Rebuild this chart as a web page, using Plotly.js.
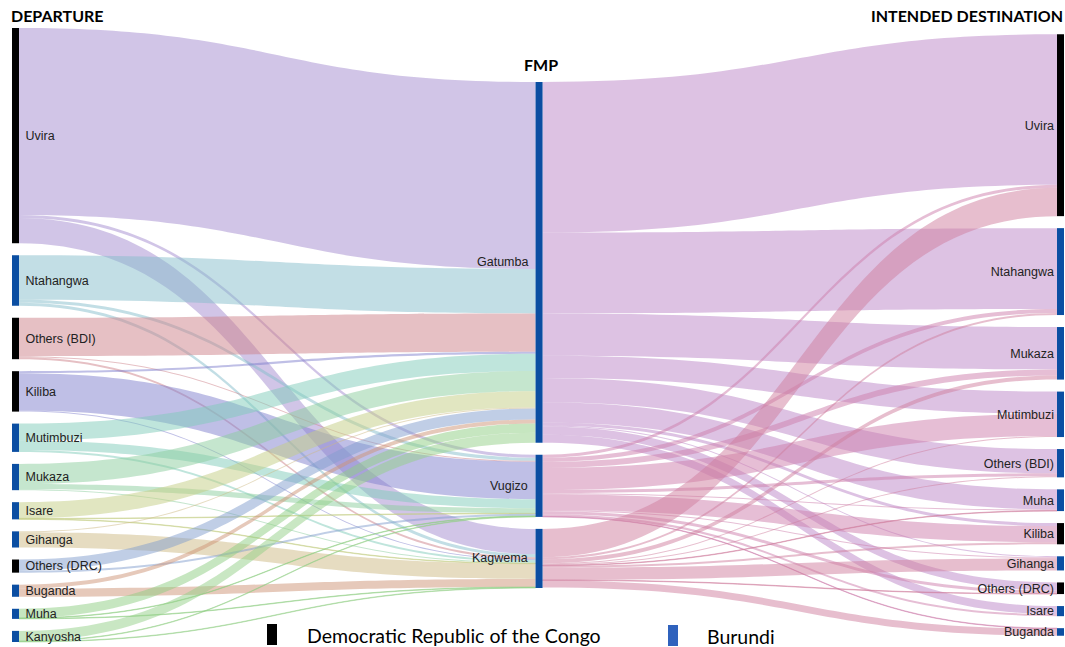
<!DOCTYPE html>
<html>
<head>
<meta charset="utf-8">
<script src="https://cdn.plot.ly/plotly-3.0.1.min.js"></script>
<style>html,body{margin:0;padding:0;background:#fff;}#chart{width:1065px;height:647px;}</style>
</head>
<body>
<div id="chart"></div>
<script>
// ---------- DATA ----------
const departure = ['Uvira','Ntahangwa','Others (BDI)','Kiliba','Mutimbuzi','Mukaza','Isare','Gihanga','Others (DRC)','Buganda','Muha','Kanyosha'];
const departureCountry = ['DRC','BDI','DRC','DRC','BDI','BDI','BDI','BDI','DRC','BDI','BDI','BDI'];
const fmp = ['Gatumba','Vugizo','Kagwema'];
const destination = ['Uvira','Ntahangwa','Mukaza','Mutimbuzi','Others (BDI)','Muha','Kiliba','Gihanga','Others (DRC)','Isare','Buganda'];
const destinationCountry = ['DRC','BDI','BDI','BDI','BDI','BDI','DRC','BDI','DRC','BDI','BDI'];

// departure -> FMP  (columns: Gatumba, Vugizo, Kagwema)
const departureToFmp = [
  [185, 3, 25],     // Uvira
  [44, 3, 3],       // Ntahangwa
  [38, 1, 2],       // Others (BDI)
  [2, 37, 1],       // Kiliba
  [17, 9, 2],       // Mutimbuzi
  [20, 5, 1],       // Mukaza
  [16, 0.5, 0.5],   // Isare
  [1, 0, 15],       // Gihanga
  [11, 2, 0],       // Others (DRC)
  [4, 0, 8],        // Buganda
  [9, 0.5, 0.5],    // Muha
  [10, 0.5, 0.5]    // Kanyosha
];
// FMP -> destination (columns follow `destination`)
const fmpToDestination = [
  [149, 80, 42, 22, 24, 20, 3, 1, 8, 8, 0],        // Gatumba
  [3, 4, 6, 22, 3, 1, 16, 1, 3, 2, 0.5],           // Vugizo
  [28, 2, 4, 1, 1, 0.5, 2, 12, 0.5, 0, 7]          // Kagwema
];

// ---------- STYLE ----------
const countryColor = {DRC: '#000000', BDI: '#0b4ea2'};
const fmpNodeColor = '#0b4ea2';
const departureLinkColors = [
  'rgba(163,140,207,0.5)', 'rgba(133,190,204,0.5)', 'rgba(205,130,138,0.5)', 'rgba(128,128,205,0.5)',
  'rgba(127,203,185,0.5)', 'rgba(139,205,157,0.5)', 'rgba(195,205,131,0.5)', 'rgba(205,185,131,0.5)',
  'rgba(129,157,205,0.5)', 'rgba(205,147,117,0.5)', 'rgba(141,205,129,0.5)', 'rgba(147,207,135,0.5)'
];
const fmpLinkColors = ['rgba(187,133,199,0.5)', 'rgba(205,125,172,0.5)', 'rgba(207,125,158,0.5)'];

const W = 1065, H = 647;
const margin = {l: 12, r: 1, t: 28, b: 5};
const plotW = W - margin.l - margin.r, plotH = H - margin.t - margin.b;
const pad = 12, thickness = 7;
const labelFont = {family: 'Liberation Sans, Arial, sans-serif', size: 12.5, color: '#222'};

// ---------- BUILD ----------
const nDep = departure.length, nF = fmp.length;
// left labels get a small lead-in space; middle labels are drawn to the left of their nodes below
const labels = [...departure.map(s => '\u00a0' + s), ...fmp.map(() => ''), ...destination];
const source = [], target = [], value = [], linkColor = [];
departureToFmp.forEach((row, i) => row.forEach((v, j) => {
  if (v > 0) { source.push(i); target.push(nDep + j); value.push(v); linkColor.push(departureLinkColors[i]); }
}));
fmpToDestination.forEach((row, j) => row.forEach((v, k) => {
  if (v > 0) { source.push(nDep + j); target.push(nDep + nF + k); value.push(v); linkColor.push(fmpLinkColors[j]); }
}));
const nodeColor = [
  ...departureCountry.map(c => countryColor[c]),
  ...fmp.map(() => fmpNodeColor),
  ...destinationCountry.map(c => countryColor[c])
];

// node totals
const nodeVal = labels.map((_, i) => {
  let a = 0, b = 0;
  source.forEach((s, k) => { if (s === i) a += value[k]; });
  target.forEach((t, k) => { if (t === i) b += value[k]; });
  return Math.max(a, b);
});
const columns = [
  departure.map((_, i) => i),
  fmp.map((_, j) => nDep + j),
  destination.map((_, k) => nDep + nF + k)
];
const ky = Math.min(...columns.map(c => (plotH - (c.length - 1) * pad) / c.reduce((s, i) => s + nodeVal[i], 0)));
const colX = [thickness / 2 / plotW, 0.501, 1 - thickness / 2 / plotW];
const nodeX = new Array(labels.length), nodeY = new Array(labels.length);
columns.forEach((c, ci) => {
  const span = c.reduce((s, i) => s + nodeVal[i] * ky, 0) + (c.length - 1) * pad;
  let y = (plotH - span) / 2;
  c.forEach(i => {
    const h = nodeVal[i] * ky;
    nodeX[i] = colX[ci];
    nodeY[i] = (y + h / 2) / plotH;
    y += h + pad;
  });
});

const trace = {
  type: 'sankey',
  arrangement: 'fixed',
  orientation: 'h',
  node: {
    label: labels, color: nodeColor, x: nodeX, y: nodeY,
    pad: pad, thickness: thickness, line: {width: 0},
    hoverinfo: 'none'
  },
  link: {source, target, value, color: linkColor, hoverinfo: 'none'},
  textfont: Object.assign({shadow: 'none'}, labelFont)
};

const px2x = px => (px - margin.l) / plotW;
const py2y = py => 1 - (py - margin.t) / plotH;
const headFont = {family: 'Lato, Open Sans, sans-serif', size: 16, color: '#000'};
const legFont = {family: 'Lato, Open Sans, sans-serif', size: 19.5, color: '#000'};

// middle-column labels, left of the node bars
const midLabelX = colX[1] - (thickness / 2 + 6) / plotW;
const fmpAnnotations = fmp.map((name, j) => ({
  text: name, xref: 'paper', yref: 'paper', x: midLabelX, y: 1 - nodeY[nDep + j],
  xanchor: 'right', yanchor: 'middle', showarrow: false, font: labelFont
}));

const layout = {
  width: W, height: H, margin, paper_bgcolor: '#fff', font: {family: 'Liberation Sans, Arial'},
  annotations: [
    ...fmpAnnotations,
    {text: '<b>DEPARTURE</b>', xref: 'paper', yref: 'paper', x: px2x(9), y: py2y(16), xanchor: 'left', yanchor: 'middle', showarrow: false, font: headFont},
    {text: '<b>FMP</b>', xref: 'paper', yref: 'paper', x: px2x(541), y: py2y(64), xanchor: 'center', yanchor: 'middle', showarrow: false, font: headFont},
    {text: '<b>INTENDED DESTINATION</b>', xref: 'paper', yref: 'paper', x: px2x(1065), y: py2y(16), xanchor: 'right', yanchor: 'middle', showarrow: false, font: headFont},
    {text: 'Democratic Republic of the Congo', xref: 'paper', yref: 'paper', x: px2x(305), y: py2y(635), xanchor: 'left', yanchor: 'middle', showarrow: false, font: legFont},
    {text: 'Burundi', xref: 'paper', yref: 'paper', x: px2x(705), y: py2y(636), xanchor: 'left', yanchor: 'middle', showarrow: false, font: legFont}
  ],
  shapes: [
    {type: 'rect', xref: 'paper', yref: 'paper', x0: px2x(267), x1: px2x(277), y0: py2y(624), y1: py2y(645), fillcolor: '#000', line: {width: 0}},
    {type: 'rect', xref: 'paper', yref: 'paper', x0: px2x(668), x1: px2x(678), y0: py2y(625), y1: py2y(646), fillcolor: '#2f62bd', line: {width: 0}}
  ]
};
Plotly.newPlot('chart', [trace], layout, {displayModeBar: false, staticPlot: true});
</script>
</body>
</html>
